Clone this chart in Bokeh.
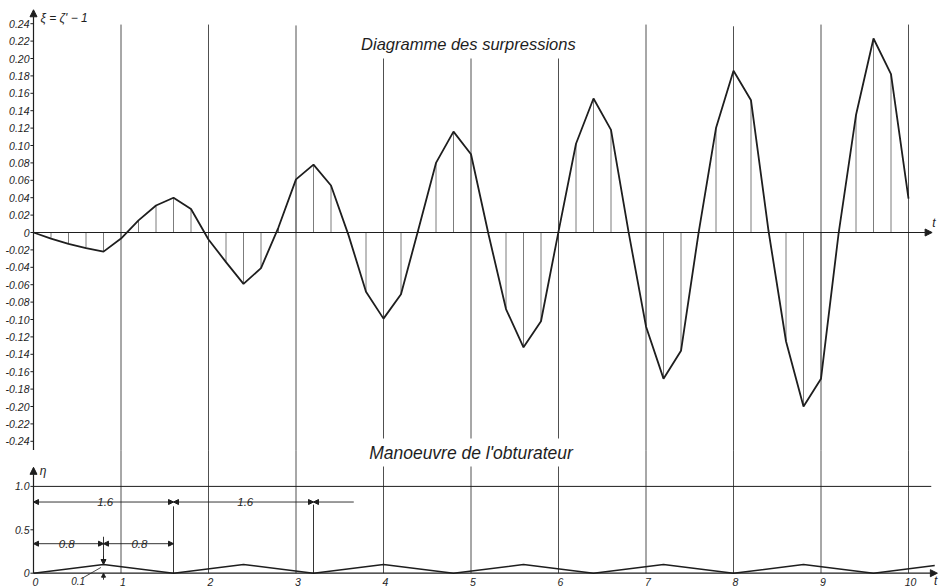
from bokeh.plotting import figure
from bokeh.models import Range1d, ColumnDataSource, Arrow, NormalHead
from bokeh.core.properties import value
from bokeh.embed import file_html
from bokeh.resources import INLINE

# ---------------- data ----------------
# surpression diagram, sampled every 0.2 s
t_xi = [0.0, 0.2, 0.4, 0.6, 0.8, 1.0, 1.2, 1.4, 1.6, 1.8,
        2.0, 2.2, 2.4, 2.6, 2.8, 3.0, 3.2, 3.4, 3.6, 3.8,
        4.0, 4.2, 4.4, 4.6, 4.8, 5.0, 5.2, 5.4, 5.6, 5.8,
        6.0, 6.2, 6.4, 6.6, 6.8, 7.0, 7.2, 7.4, 7.6, 7.8,
        8.0, 8.2, 8.4, 8.6, 8.8, 9.0, 9.2, 9.4, 9.6, 9.8, 10.0]
xi = [0.000, -0.007, -0.013, -0.018, -0.022, -0.007, 0.014, 0.031, 0.040, 0.027,
      -0.008, -0.034, -0.059, -0.041, 0.006, 0.061, 0.078, 0.054, -0.003, -0.068,
      -0.099, -0.071, 0.004, 0.080, 0.116, 0.090, -0.002, -0.088, -0.132, -0.102,
      0.001, 0.102, 0.154, 0.118, 0.001, -0.108, -0.168, -0.136, -0.001, 0.120,
      0.186, 0.152, 0.002, -0.125, -0.200, -0.168, -0.002, 0.135, 0.223, 0.182, 0.039]

xi_ticks = [0.24, 0.22, 0.20, 0.18, 0.16, 0.14, 0.12, 0.10, 0.08, 0.06, 0.04, 0.02, 0.0,
            -0.02, -0.04, -0.06, -0.08, -0.10, -0.12, -0.14, -0.16, -0.18, -0.20, -0.22, -0.24]
xi_tick_labels = ["0.24", "0.22", "0.20", "0.18", "0.16", "0.14", "0.12", "0.10", "0.08",
                  "0.06", "0.04", "0.02", "0",
                  "-0.02", "-0.04", "-0.06", "-0.08", "-0.10", "-0.12", "-0.14", "-0.16",
                  "-0.18", "-0.20", "-0.22", "-0.24"]

t_ticks = [0, 1, 2, 3, 4, 5, 6, 7, 8, 9, 10]
t_tick_labels = ["0", "1", "2", "3", "4", "5", "6", "7", "8", "9", "10"]

# vertical grid lines (integer seconds) and where they start at the top
grid_t = [1, 2, 3, 4, 5, 6, 7, 8, 9, 10]
grid_top = [0.239, 0.239, 0.238, 0.200, 0.200, 0.200, 0.239, 0.237, 0.239, 0.239]

# shutter manoeuvre
t_eta = [0.0, 0.8, 1.6, 2.4, 3.2, 4.0, 4.8, 5.6, 6.4, 7.2, 8.0, 8.8, 9.6, 10.3]
eta = [0.0, 0.1, 0.0, 0.1, 0.0, 0.1, 0.0, 0.1, 0.0, 0.1, 0.0, 0.1, 0.0, 0.088]
eta_ticks = [0.0, 0.5, 1.0]
eta_tick_labels = ["0", "0.5", "1.0"]

# dimension annotations (t start, t end, eta level, label, label position)
dim_t0 = [0.0, 1.6, 0.0, 0.8]
dim_t1 = [1.6, 3.2, 0.8, 1.6]
dim_eta = [0.82, 0.82, 0.34, 0.34]
dim_label = ["1.6", "1.6", "0.8", "0.8"]
dim_label_t = [0.82, 2.42, 0.38, 1.21]

# ---------------- geometry ----------------
W, H = 941, 587
PX_T = 87.5          # px per second
T0_PX = 33           # px of t = 0
XI_SCALE = 870.0     # px per unit of xi
XI0_PX = 232         # px (from top) of xi = 0
ETA_SCALE = 86.8     # px per unit of eta
ETA0_PX = 572.7      # px (from top) of eta = 0

x_start = -T0_PX / PX_T
x_end = x_start + W / PX_T
y_end = XI0_PX / XI_SCALE
y_start = y_end - H / XI_SCALE
e_start = -(H - ETA0_PX) / ETA_SCALE
e_end = e_start + H / ETA_SCALE

INK = "#1e1e1e"
GRID = "#3c3c3c"
FONT = value("Liberation Sans")

p = figure(width=W, height=H, x_range=Range1d(x_start, x_end),
           y_range=Range1d(y_start, y_end),
           x_axis_location=None, y_axis_location=None,
           output_backend="svg", toolbar_location=None, min_border=0,
           background_fill_color="white", border_fill_color="white",
           outline_line_color=None)
p.extra_y_ranges = {"eta": Range1d(e_start, e_end)}
p.xgrid.visible = False
p.ygrid.visible = False

# ---- vertical grid lines ----
p.segment(x0=grid_t, y0=grid_top, x1=grid_t, y1=[-0.25] * len(grid_t),
          line_color=GRID, line_width=0.9)
p.segment(x0=grid_t, y0=[0.0] * len(grid_t), x1=grid_t, y1=[1.418] * len(grid_t),
          line_color=GRID, line_width=0.9, y_range_name="eta")

# ---- hatch lines of the surpression diagram ----
p.segment(x0=t_xi, y0=[0.0] * len(t_xi), x1=t_xi, y1=xi,
          line_color="#5a5a5a", line_width=0.8)

# ---- axes ----
XI_AX_TOP = 0.256
arrow_head = dict(size=7, fill_color=INK, line_color=INK)
p.add_layout(Arrow(end=NormalHead(**arrow_head),
                   x_start=0, y_start=-0.25, x_end=0, y_end=XI_AX_TOP,
                   line_color=INK, line_width=1.2))
p.add_layout(Arrow(end=NormalHead(**arrow_head),
                   x_start=0, y_start=0, x_end=0, y_end=1.22,
                   line_color=INK, line_width=1.2, y_range_name="eta"))
p.add_layout(Arrow(end=NormalHead(**arrow_head),
                   x_start=0, y_start=0, x_end=10.27, y_end=0,
                   line_color=INK, line_width=1.2))
p.add_layout(Arrow(end=NormalHead(**arrow_head),
                   x_start=0, y_start=0, x_end=10.33, y_end=0,
                   line_color=INK, line_width=1.2, y_range_name="eta"))
# eta = 1.0 line
p.segment(x0=[0], y0=[1.0], x1=[10.26], y1=[1.0], line_color=INK,
          line_width=1.0, y_range_name="eta")

# tick marks
TK = 0.035
p.segment(x0=[-TK] * len(xi_ticks), y0=xi_ticks, x1=[0] * len(xi_ticks), y1=xi_ticks,
          line_color=INK, line_width=1)
p.segment(x0=[-TK] * len(eta_ticks), y0=eta_ticks, x1=[0] * len(eta_ticks), y1=eta_ticks,
          line_color=INK, line_width=1, y_range_name="eta")

# tick labels
p.text(x=[-0.046] * len(xi_ticks), y=xi_ticks, text=xi_tick_labels,
       text_align="right", text_baseline="middle", text_font=FONT,
       text_font_style="italic", text_font_size="10.5px", text_color=INK)
p.text(x=[-0.046] * len(eta_ticks), y=eta_ticks, text=eta_tick_labels,
       text_align="right", text_baseline="middle", text_font=FONT,
       text_font_style="italic", text_font_size="10.5px", text_color=INK,
       y_range_name="eta")
p.text(x=t_ticks, y=[-0.10] * len(t_ticks), text=t_tick_labels,
       x_offset=2, text_align="center", text_baseline="middle",
       text_font=FONT, text_font_style="italic", text_font_size="10.5px",
       text_color=INK, y_range_name="eta")

# axis names
p.text(x=[0.08], y=[0.246], text=["ξ = ζ' − 1"], text_align="left",
       text_baseline="middle", text_font=FONT, text_font_style="italic",
       text_font_size="12px", text_color=INK)
p.text(x=[0.07], y=[1.18], text=["η"], text_align="left",
       text_baseline="middle", text_font=FONT, text_font_style="italic",
       text_font_size="12px", text_color=INK, y_range_name="eta")
p.text(x=[10.29], y=[0.011], text=["t"], text_align="center",
       text_baseline="middle", text_font=FONT, text_font_style="italic",
       text_font_size="12px", text_color=INK)
p.text(x=[10.31], y=[-0.09], text=["t"], text_align="center",
       text_baseline="middle", text_font=FONT, text_font_style="italic",
       text_font_size="12px", text_color=INK, y_range_name="eta")

# ---- surpression curve ----
p.line(t_xi, xi, line_color=INK, line_width=1.8)

# ---- shutter curve ----
p.line(t_eta, eta, line_color=INK, line_width=1.5, y_range_name="eta")

# ---- dimensioning ----
head = dict(size=5, fill_color=INK, line_color=INK)
dsrc = ColumnDataSource(dict(x0=dim_t0, x1=dim_t1, y=dim_eta))
p.add_layout(Arrow(start=NormalHead(**head), end=NormalHead(**head),
                   x_start="x0", y_start="y", x_end="x1", y_end="y", source=dsrc,
                   line_color=INK, line_width=0.9, y_range_name="eta"))
# outside arrow at 3.2
p.add_layout(Arrow(end=NormalHead(**head), x_start=3.66, y_start=0.82, x_end=3.2,
                   y_end=0.82, line_color=INK, line_width=0.9, y_range_name="eta"))
# extension lines
p.segment(x0=[0.8, 1.6, 3.2], y0=[0.42, 0.77, 0.79], x1=[0.8, 1.6, 3.2],
          y1=[0.1, 0.0, 0.0], line_color=INK, line_width=0.9, y_range_name="eta")
p.add_layout(Arrow(end=NormalHead(**head), x_start=0.8, y_start=0.2, x_end=0.8,
                   y_end=0.1, line_color=INK, line_width=0.9, y_range_name="eta"))
p.add_layout(Arrow(end=NormalHead(size=4, fill_color=INK, line_color=INK),
                   x_start=0.8, y_start=-0.075, x_end=0.8, y_end=0.0,
                   line_color=INK, line_width=0.9, y_range_name="eta"))
# 0.1 leader
p.segment(x0=[0.57], y0=[-0.05], x1=[0.77], y1=[0.066], line_color=INK,
          line_width=0.8, y_range_name="eta")
p.text(x=[0.51], y=[-0.085], text=["0.1"], text_align="center",
       text_baseline="middle", text_font=FONT, text_font_style="italic",
       text_font_size="10px", text_color=INK, y_range_name="eta")
# dimension labels with white background interrupting the lines
p.text(x=dim_label_t, y=dim_eta, text=dim_label, text_align="center",
       text_baseline="middle", text_font=FONT, text_font_style="italic",
       text_font_size="11.5px", text_color=INK, background_fill_color="white",
       padding=6, y_range_name="eta")

# ---- titles ----
p.text(x=[4.97], y=[0.2167], text=["Diagramme des surpressions"], text_align="center",
       text_baseline="middle", text_font=FONT, text_font_style="italic",
       text_font_size="16.5px", text_color=INK)
p.text(x=[5.0], y=[1.39], text=["Manoeuvre de l'obturateur"], text_align="center",
       text_baseline="middle", text_font=FONT, text_font_style="italic",
       text_font_size="17.5px", text_color=INK, background_fill_color="white",
       padding=4, y_range_name="eta")

open("out.html", "w").write(file_html(p, INLINE))
